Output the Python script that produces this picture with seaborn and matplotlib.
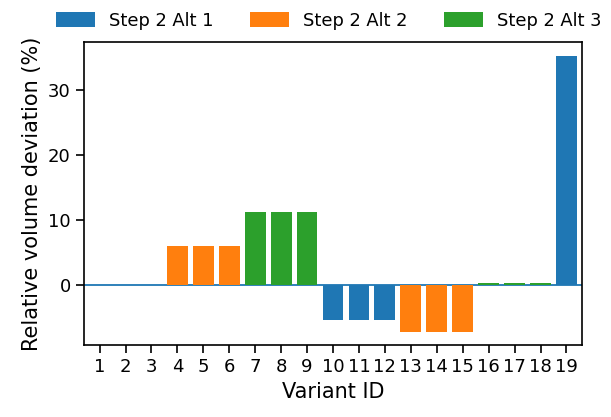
import matplotlib
matplotlib.use("Agg")
import matplotlib.pyplot as plt
import seaborn as sns
import pandas as pd

variant_ids = [str(i) for i in range(1, 20)]
deviation = [0.0, 0.0, 0.0, 6.1, 6.1, 6.1, 11.2, 11.2, 11.2,
             -5.4, -5.4, -5.4, -7.2, -7.2, -7.2, 0.4, 0.4, 0.4, 35.3]
groups = ["Step 2 Alt 1"] * 3 + ["Step 2 Alt 2"] * 3 + ["Step 2 Alt 3"] * 3 + \
         ["Step 2 Alt 1"] * 3 + ["Step 2 Alt 2"] * 3 + ["Step 2 Alt 3"] * 3 + ["Step 2 Alt 1"]
hue_order = ["Step 2 Alt 1", "Step 2 Alt 2", "Step 2 Alt 3"]
colors = ["#1f77b4", "#ff7f0e", "#2ca02c"]

df = pd.DataFrame({"Variant ID": variant_ids, "dev": deviation, "grp": groups})

sns.set_style("ticks", rc={"axes.edgecolor": "black", "text.color": "black",
                           "axes.labelcolor": "black", "xtick.color": "black",
                           "ytick.color": "black"})
plt.rcParams["font.family"] = ["DejaVu Sans"]

fig = plt.figure(figsize=(6.11, 4.17), dpi=100)
ax = fig.add_axes([84 / 611, 1 - 345 / 417, (582 - 84) / 611, (345 - 42) / 417])

sns.barplot(data=df, x="Variant ID", y="dev", hue="grp", hue_order=hue_order,
            palette=colors, dodge=False, width=0.8, ax=ax, saturation=1,
            legend=True, linewidth=0)
ax.axhline(0, color=colors[0], linewidth=1.3, zorder=0.5)
ax.set_xlim(-0.6, 18.6)
ax.set_ylim(-9.2, 37.4)
ax.set_yticks([0, 10, 20, 30])
ax.set_xlabel("Variant ID", fontsize=15)
ax.set_ylabel("Relative volume deviation (%)", fontsize=15)
ax.tick_params(labelsize=13, length=6, width=1.2)
for s in ax.spines.values():
    s.set_linewidth(1.2)

handles, labels = ax.get_legend_handles_labels()
ax.get_legend().remove()
fig.legend(handles, labels, loc="upper center", ncol=3, frameon=False,
           bbox_to_anchor=(0.538, 1.01), fontsize=12.9, handlelength=2.2,
           handleheight=0.9, columnspacing=2.0)

fig.savefig("out.png", dpi=100)
